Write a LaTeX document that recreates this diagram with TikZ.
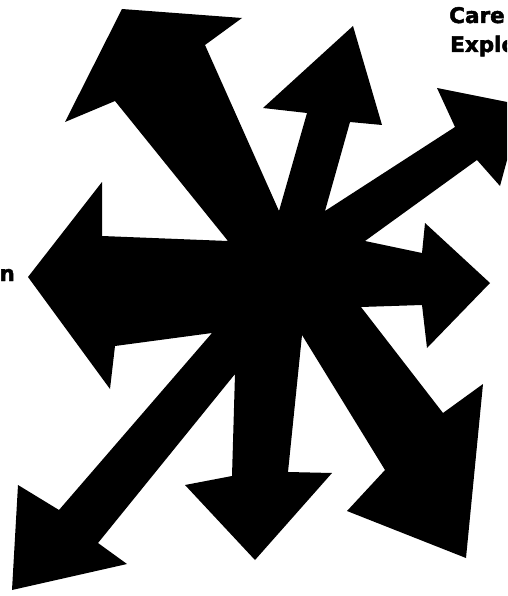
\documentclass[tikz,border=0pt]{standalone}
\usepackage{fontspec}
\newfontfamily\lblfont[FakeBold=2.2]{DejaVu Sans}
\usepackage{tikz}

\begin{document}
\begin{tikzpicture}[
    x=1pt, y=-1pt,
    arrowshape/.style={fill=black},
    lbl/.style={font=\lblfont\bfseries\fontsize{21.5}{24}\selectfont, inner sep=0pt}
]
    \useasboundingbox (0,0) rectangle (507,596);
    \clip (0,0) rectangle (507,596);

    % hub and the inner corners where two shafts meet
    \coordinate (hub) at (288,282);
    \coordinate (lul) at (228,241);
    \coordinate (ulu) at (279,211);
    \coordinate (uur) at (325,211);
    \coordinate (urr) at (365,241);
    \coordinate (rlr) at (361,307);
    \coordinate (lrd) at (302,335);
    \coordinate (dll) at (235,374);
    \coordinate (lll) at (212,333);

    % all eight arrows in one fill, so no seams show at the hub
    \fill[arrowshape]
        % --- Upper left ---
        (hub) -- (lul) -- (115,101) -- (65,122) -- (122,9)
        -- (242,18) -- (205,45) -- (ulu) -- cycle
        % --- Up ---
        (hub) -- (ulu) -- (307,113) -- (263,108) -- (353,26)
        -- (382,125) -- (350,122) -- (uur) -- cycle
        % --- Upper right (runs off the page) ---
        (hub) -- (uur) -- (455,127) -- (437,88) -- (522,105)
        -- (500,186) -- (477,160) -- (urr) -- cycle
        % --- Right ---
        (hub) -- (urr) -- (422,253) -- (425,223) -- (490,283)
        -- (427,348) -- (422,305) -- (rlr) -- cycle
        % --- Lower right ---
        (hub) -- (rlr) -- (443,413) -- (483,384) -- (466,558)
        -- (347,511) -- (385,470) -- (lrd) -- cycle
        % --- Down ---
        (hub) -- (lrd) -- (288,472) -- (332,473) -- (255,560)
        -- (185,485) -- (232,476) -- (dll) -- cycle
        % --- Lower left ---
        (hub) -- (dll) -- (98,543) -- (127,564) -- (12,590)
        -- (18,485) -- (59,510) -- (lll) -- cycle
        % --- Left ---
        (hub) -- (lll) -- (115,346) -- (110,389) -- (28,277)
        -- (102,182) -- (102,236) -- (lul) -- cycle;

    % --- Labels, cut by the page edge as in the source ---
    \node[lbl, anchor=base west] (care) at (449,23) {Care};
    \node[lbl, anchor=base west] (explo) at (450,52) {Explo};
    \node[lbl, anchor=base east] (ending) at (15,281) {n};
\end{tikzpicture}
\end{document}
